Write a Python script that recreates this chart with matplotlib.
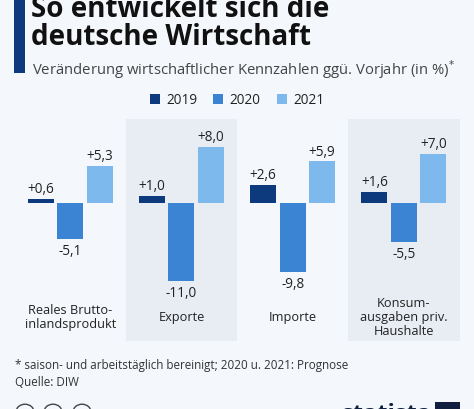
import matplotlib
matplotlib.use("Agg")
import matplotlib.pyplot as plt
from matplotlib.patches import Rectangle, Circle
import matplotlib.transforms as mtransforms
import numpy as np

categories = ["Reales Brutto-\ninlandsprodukt", "Exporte", "Importe", "Konsum-\nausgaben priv.\nHaushalte"]
years = ["2019", "2020", "2021"]
v2019 = [0.6, 1.0, 2.6, 1.6]
v2020 = [-5.1, -11.0, -9.8, -5.5]
v2021 = [5.3, 8.0, 5.9, 7.0]
labels2019 = ["+0,6", "+1,0", "+2,6", "+1,6"]
labels2020 = ["-5,1", "-11,0", "-9,8", "-5,5"]
labels2021 = ["+5,3", "+8,0", "+5,9", "+7,0"]

colors = ["#0c3a7d", "#3a84d3", "#7db9ed"]
bg = "#f4f7fb"
panel = "#e8edf4"
FONT = "Open Sans"
plt.rcParams["font.family"] = [FONT, "DejaVu Sans"]

W, H = 474, 410
fig = plt.figure(figsize=(W / 100, H / 100), dpi=100, facecolor=bg)

def fx(px):
    return px / W

def fy(py):
    return 1 - py / H

# left accent bar
fig.patches.append(Rectangle((fx(14), fy(74)), fx(11), 74 / H, transform=fig.transFigure,
                             facecolor="#0c3a7d", edgecolor="none"))
fig.text(fx(31), fy(17), "So entwickelt sich die", fontsize=20, fontweight="bold",
         color="#111111", va="baseline", ha="left")
fig.text(fx(31), fy(45), "deutsche Wirtschaft", fontsize=20, fontweight="bold",
         color="#111111", va="baseline", ha="left")
fig.text(fx(32), fy(75), "Veränderung wirtschaftlicher Kennzahlen ggü. Vorjahr (in %)$^{*}$",
         fontsize=10.7, color="#444444", va="baseline", ha="left")

# legend
leg_sq = [150, 213, 277]
for x0, yr, c in zip(leg_sq, years, colors):
    fig.patches.append(Rectangle((fx(x0), fy(105)), fx(10), 10 / H, transform=fig.transFigure,
                                 facecolor=c, edgecolor="none"))
    fig.text(fx(x0 + 16), fy(100), yr, fontsize=9.8, color="#222222", va="center", ha="left")

# main axes
ax = fig.add_axes([fx(14.5), fy(342), fx(445), 222 / H])
ax.set_facecolor(bg)
ax.set_xlim(-0.5, 3.5)
ppu = 7.05
ax.set_ylim(-(342 - 204) / ppu, (204 - 120) / ppu)
for s in ax.spines.values():
    s.set_visible(False)
ax.set_xticks([])
ax.set_yticks([])
for i in (1, 3):
    ax.axvspan(i - 0.5, i + 0.5, color=panel, zorder=0, lw=0)

x = np.arange(len(categories))
bw = 26 / 111.25
off = 29.5 / 111.25
for k, (vals, labs) in enumerate(zip([v2019, v2020, v2021], [labels2019, labels2020, labels2021])):
    xs = x + (k - 1) * off
    ax.bar(xs, vals, width=bw, color=colors[k], zorder=2)
    for xi, v, lab in zip(xs, vals, labs):
        if v >= 0:
            ax.annotate(lab, (xi, v), xytext=(0, 2), textcoords="offset points",
                        ha="center", va="bottom", fontsize=9.8, color="#222222")
        else:
            ax.annotate(lab, (xi, v), xytext=(0, -3), textcoords="offset points",
                        ha="center", va="top", fontsize=9.8, color="#222222")

trans = mtransforms.blended_transform_factory(ax.transData, ax.transAxes)
for xi, cat in zip(x, categories):
    ax.text(xi, (342 - 318) / 222, cat, transform=trans, ha="center", va="center",
            fontsize=9.2, color="#222222", linespacing=1.1)

# footnote
fig.text(fx(15), fy(366), "* saison- und arbeitstäglich bereinigt; 2020 u. 2021: Prognose",
         fontsize=8.4, color="#333333", va="center", ha="left")
fig.text(fx(15), fy(383), "Quelle: DIW", fontsize=8.4, color="#333333", va="center", ha="left")

# bottom icons (cut off)
for cx in (25, 53, 82):
    fig.patches.append(Circle((fx(cx), fy(413)), 9 / W, transform=fig.transFigure,
                              facecolor="none", edgecolor="#444444", lw=1.0))
fig.text(fx(342), fy(421), "statista", fontsize=17, fontweight="bold", color="#0f1f3d",
         va="baseline", ha="left")
fig.patches.append(Rectangle((fx(435), fy(420)), fx(25), 17 / H, transform=fig.transFigure,
                             facecolor="#0f1f3d", edgecolor="none"))

fig.savefig("out.png", dpi=100, facecolor=bg)
